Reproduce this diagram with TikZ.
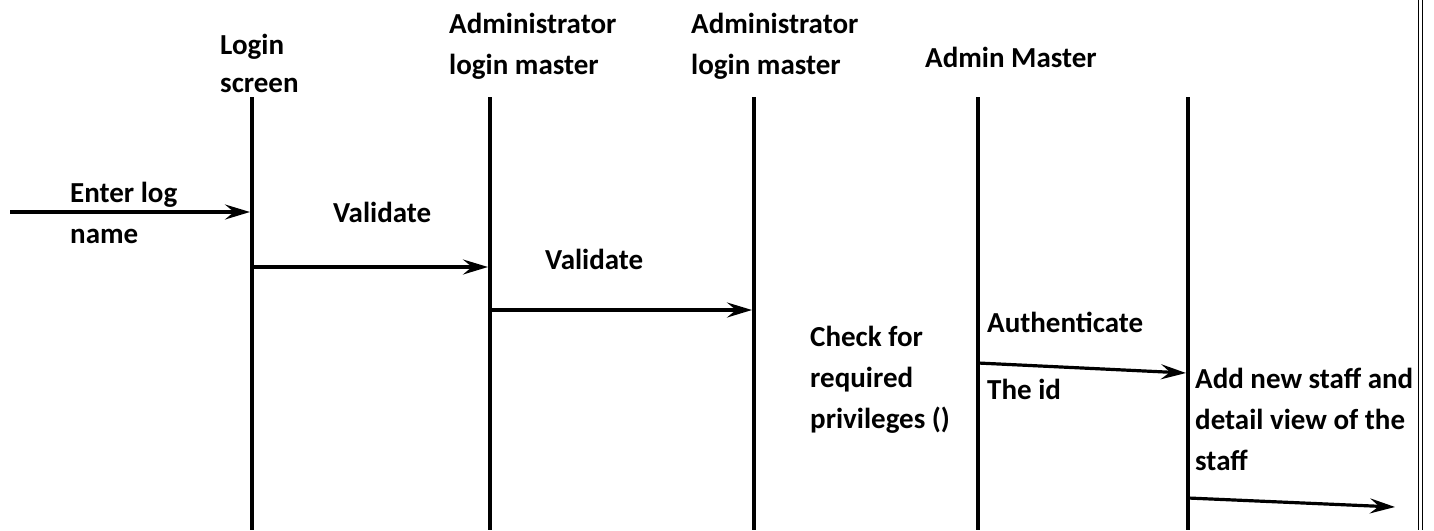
\documentclass[tikz,border=0pt]{standalone}
\usepackage{fontspec}
\setmainfont{Carlito}
\usetikzlibrary{arrows.meta}
\tikzset{
  lbl/.style={anchor=base west, inner sep=0pt, align=left, font=\bfseries\fontsize{29}{41}\selectfont},
  life/.style={line width=4pt},
  msg/.style={line width=3.2pt, -{Stealth[length=25pt,width=15pt,inset=9pt]}},
}
\begin{document}
\begin{tikzpicture}[x=1pt,y=-1pt]
\useasboundingbox (0,0) rectangle (1434,530);
% border
\draw[line width=1pt] (1418.5,0) -- (1418.5,530);
\draw[line width=1pt] (1422.5,0) -- (1422.5,530);
% lifelines
\coordinate (t1) at (252,97);  \coordinate (b1) at (252,530);
\coordinate (t2) at (490,97);  \coordinate (b2) at (490,530);
\coordinate (t3) at (754,97);  \coordinate (b3) at (754,530);
\coordinate (t4) at (978,97);  \coordinate (b4) at (978,530);
\coordinate (t5) at (1188,97); \coordinate (b5) at (1188,530);
\foreach \i in {1,...,5} \draw[life] (t\i) -- (b\i);
% headers (anchored at the baseline of the last line)
\node[lbl] (h1) at (220,92) {Login\\[-3pt]screen};
\node[lbl] (h2) at (449,74) {Administrator\\login master};
\node[lbl] (h3) at (691,74) {Administrator\\login master};
\node[lbl] (h4) at (925,67) {Admin Master};
% labels
\node[lbl] (l1) at (70,243) {Enter log\\name};
\node[lbl] (l2) at (333,222) {Validate};
\node[lbl] (l3) at (545,269) {Validate};
\node[lbl] (l4) at (810,428) {Check for\\required\\privileges ()};
\node[lbl] (l5) at (987,332) {Authenticate};
\node[lbl] (l6) at (987,399) {The id};
\node[lbl] (l7) at (1195,470) {Add new staff and\\detail view of the\\staff};
% message endpoints
\coordinate (m1s) at (10,212);   \coordinate (m1e) at (250,212);
\coordinate (m2s) at (252,267);  \coordinate (m2e) at (488,267);
\coordinate (m3s) at (490,310);  \coordinate (m3e) at (752,310);
\coordinate (m4s) at (978,363);  \coordinate (m4e) at (1186,373);
\coordinate (m5s) at (1188,498); \coordinate (m5e) at (1395,507);
\foreach \i in {1,...,5} \draw[msg] (m\i s) -- (m\i e);
\end{tikzpicture}
\end{document}
